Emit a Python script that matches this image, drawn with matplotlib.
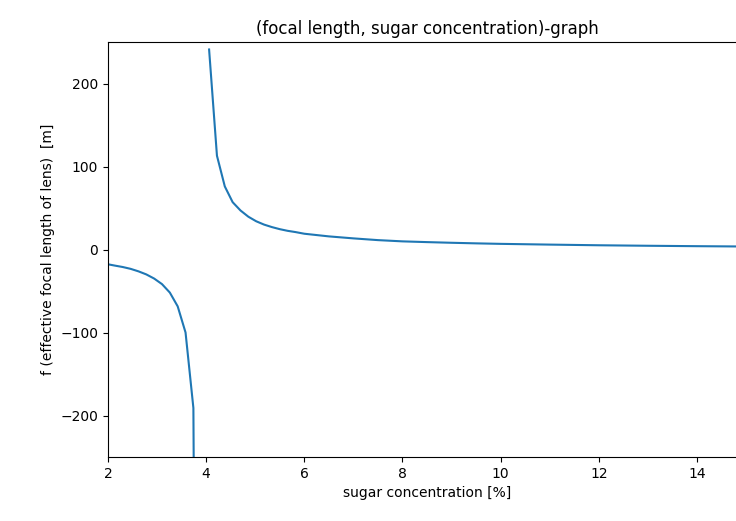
import matplotlib
matplotlib.use('Agg')
import matplotlib.pyplot as plt

# left branch (below the pole)
conc_left = [1.98, 2.14, 2.30, 2.46, 2.62, 2.78, 2.94, 3.10, 3.26, 3.42, 3.58, 3.74, 3.90]
focal_left = [-17.6, -19.4, -21.1, -23.3, -26.3, -30.0, -35.0, -41.7, -51.9, -68.5, -100.0, -191.0, -1800.0]

# right branch (above the pole)
conc_right = [4.06, 4.22, 4.38, 4.54, 4.70, 4.86, 5.02, 5.18, 5.34, 5.50, 5.66, 5.82,
              6.0, 6.5, 7.0, 7.5, 8.0, 8.5, 9.0, 9.5, 10.0, 11.0, 12.0, 13.0, 14.0, 15.0]
focal_right = [241.0, 113.0, 76.0, 57.0, 47.0, 39.5, 34.0, 30.0, 27.0, 24.5, 22.5, 21.0,
               19.0, 15.8, 13.4, 11.3, 9.8, 8.9, 8.1, 7.4, 6.8, 5.9, 5.1, 4.5, 4.0, 3.6]

fig = plt.figure(figsize=(7.36, 5.21), dpi=100)
ax = fig.add_axes([108 / 736, 64 / 521, 638 / 736, 415 / 521])

ax.plot(conc_left, focal_left, color='#1f77b4', lw=1.5)
ax.plot(conc_right, focal_right, color='#1f77b4', lw=1.5)

ax.set_xlim(2, 15)
ax.set_ylim(-250, 250)
ax.set_yticks([-200, -100, 0, 100, 200])

ax.set_title('(focal length, sugar concentration)-graph', fontsize=12)
ax.set_xlabel('sugar concentration [%]')
ax.set_ylabel('f (effective focal length of lens)  [m]')

fig.savefig('out.png', dpi=100)
